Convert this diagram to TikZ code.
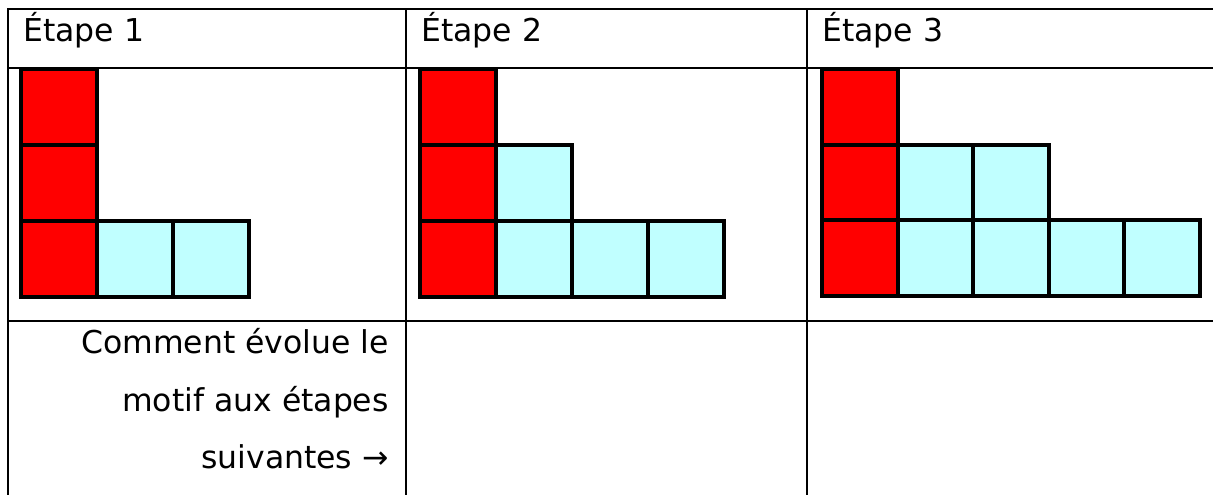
\documentclass[tikz,border=0pt]{standalone}
\usepackage{fontspec}
\setmainfont{DejaVu Sans}
\definecolor{sqred}{HTML}{FF0000}
\definecolor{sqcyan}{HTML}{C0FFFF}
\begin{document}
\begin{tikzpicture}[x=0.75pt,y=-0.75pt,
  gridline/.style={line width=1.6pt, line cap=rect},
  redsq/.style={fill=sqred,draw=black,line width=2.9pt},
  cyansq/.style={fill=sqcyan,draw=black,line width=2.9pt},
  celltext/.style={font=\fontsize{23.6}{28}\selectfont,inner sep=0pt}]
\useasboundingbox (0,0) rectangle (1213,495);
% table grid
\draw[gridline] (8,9) -- (1220,9);
\draw[gridline] (8,68) -- (1220,68);
\draw[gridline] (8,321) -- (1220,321);
\draw[gridline] (8,9) -- (8,500);
\draw[gridline] (406,9) -- (406,500);
\draw[gridline] (807,9) -- (807,500);
% headers
\node[celltext, anchor=base west] (h1) at (23,42) {Étape 1};
\node[celltext, anchor=base west] (h2) at (421,42) {Étape 2};
\node[celltext, anchor=base west] (h3) at (822,42) {Étape 3};
% step 1
\foreach \r in {0,1,2} \draw[redsq] (21,69+76*\r) rectangle ++(76,76);
\foreach \c in {1,2} \draw[cyansq] (21+76*\c,221) rectangle ++(76,76);
% step 2
\foreach \r in {0,1,2} \draw[redsq] (420,69+76*\r) rectangle ++(76,76);
\foreach \c in {1} \draw[cyansq] (420+76*\c,145) rectangle ++(76,76);
\foreach \c in {1,2,3} \draw[cyansq] (420+76*\c,221) rectangle ++(76,76);
% step 3
\foreach \r in {0,1,2} \draw[redsq] (822,69+75.6*\r) rectangle ++(75.6,75.6);
\foreach \c in {1,2} \draw[cyansq] (822+75.6*\c,144.6) rectangle ++(75.6,75.6);
\foreach \c in {1,2,3,4} \draw[cyansq] (822+75.6*\c,220.2) rectangle ++(75.6,75.6);
% question text
\node[celltext, anchor=base east] (q1) at (389,353) {Comment évolue le};
\node[celltext, anchor=base east] (q2) at (389,411) {motif aux étapes};
\node[celltext, anchor=base east] (q3) at (389,468) {suivantes →};
\end{tikzpicture}
\end{document}
